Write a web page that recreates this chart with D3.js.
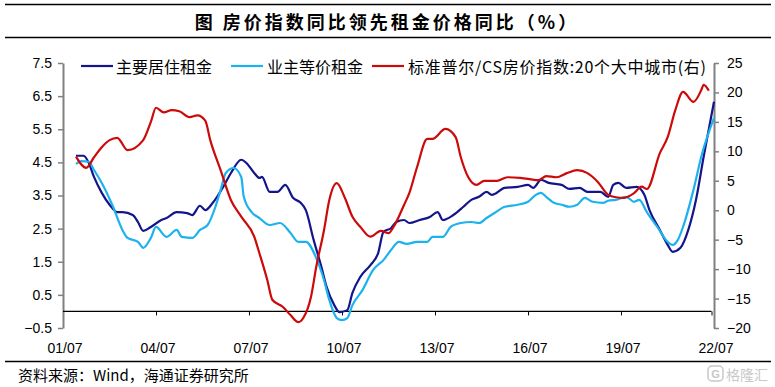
<!DOCTYPE html>
<html>
<head>
<meta charset="utf-8">
<script src="https://cdn.jsdelivr.net/npm/d3@7"></script>
<style>
  html, body { margin: 0; padding: 0; background: #fff; }
  svg { display: block; }
</style>
</head>
<body>
<svg id="chart" width="775" height="387"></svg>
<script>
// ---------------- DATA ----------------
const titleText = "图 房价指数同比领先租金价格同比（%）";
const sourceText = "资料来源：Wind，海通证券研究所";
const seriesNames = ["主要居住租金", "业主等价租金", "标准普尔/CS房价指数:20个大中城市(右)"];

const leftTicks = [-0.5, 0.5, 1.5, 2.5, 3.5, 4.5, 5.5, 6.5, 7.5];
const rightTicks = [-20, -15, -10, -5, 0, 5, 10, 15, 20, 25];
const xTickLabels = ["01/07", "04/07", "07/07", "10/07", "13/07", "16/07", "19/07", "22/07"];

// 主要居住租金 (left axis)
const rentDates = ["2001-12","2002-03","2002-05","2002-07","2002-10","2003-01","2003-04","2003-06","2003-10","2003-12",
  "2004-02","2004-05","2004-09","2004-11","2005-03","2005-07","2005-09","2005-12","2006-02","2006-05",
  "2006-09","2006-12","2007-04","2007-06","2007-09","2007-11","2007-12","2008-03","2008-06","2008-09",
  "2008-12","2009-03","2009-05","2009-08","2009-11","2010-01","2010-04","2010-06","2010-09","2010-11",
  "2011-02","2011-06","2011-09","2011-11","2012-02","2012-04","2012-07","2012-09","2013-01","2013-05",
  "2013-08","2013-10","2014-02","2014-06","2014-09","2014-12","2015-03","2015-05","2015-10","2016-03",
  "2016-07","2016-09","2016-12","2017-03","2017-08","2017-11","2018-03","2018-06","2018-11","2019-02",
  "2019-04","2019-06","2019-09","2020-01","2020-04","2020-06","2020-10","2021-01","2021-03","2021-06",
  "2021-09","2021-12","2022-03","2022-07"];
const rentValues = [4.70,4.70,4.48,4.06,3.58,3.22,3.00,3.00,2.91,2.70,
  2.43,2.55,2.76,2.82,3.00,2.97,2.91,3.19,3.06,3.28,
  3.76,4.18,4.58,4.48,4.18,4.03,4.06,3.61,3.61,3.82,
  3.43,3.28,3.06,2.16,1.34,0.74,0.19,-0.02,0.04,0.56,
  1.04,1.40,1.77,2.40,2.52,2.70,2.76,2.67,2.76,2.85,
  3.00,2.76,2.91,3.16,3.37,3.46,3.61,3.52,3.73,3.76,
  3.82,3.73,3.97,3.88,3.82,3.70,3.73,3.61,3.61,3.46,
  3.82,3.88,3.73,3.76,3.52,3.06,2.46,2.01,1.80,1.92,
  2.46,3.37,4.67,6.33];

// 业主等价租金 (left axis)
const oerDates = ["2001-12","2002-02","2002-05","2002-07","2002-10","2003-02","2003-06","2003-08","2003-12","2004-02",
  "2004-05","2004-07","2004-11","2005-03","2005-05","2005-09","2005-12","2006-03","2006-06","2006-08",
  "2006-10","2007-01","2007-04","2007-05","2007-08","2007-11","2008-03","2008-07","2008-11","2009-02",
  "2009-05","2009-09","2009-12","2010-02","2010-05","2010-07","2010-09","2010-11","2011-03","2011-07",
  "2011-11","2012-02","2012-05","2012-08","2012-12","2013-04","2013-06","2013-10","2014-01","2014-05",
  "2014-09","2014-12","2015-03","2015-06","2015-10","2016-03","2016-07","2016-10","2016-12","2017-02",
  "2017-05","2017-08","2017-11","2018-02","2018-05","2018-08","2018-12","2019-02","2019-05","2019-09",
  "2019-12","2020-02","2020-05","2020-09","2021-01","2021-03","2021-05","2021-07","2021-11","2022-02",
  "2022-07"];
const oerValues = [4.45,4.54,4.52,4.27,3.88,3.22,2.46,2.22,2.10,1.92,
  2.22,2.55,2.25,2.46,2.25,2.22,2.46,2.61,3.16,3.67,
  4.18,4.33,4.06,3.46,3.00,2.82,2.61,2.67,2.37,2.10,
  2.10,1.61,0.95,0.35,-0.20,-0.26,-0.20,0.19,0.65,1.25,
  1.55,1.86,2.10,2.04,2.10,2.10,2.25,2.25,2.55,2.67,
  2.70,2.67,2.82,2.97,3.16,3.22,3.31,3.52,3.58,3.46,
  3.28,3.22,3.16,3.22,3.43,3.31,3.28,3.34,3.37,3.46,
  3.31,3.37,3.00,2.55,2.10,2.01,2.16,2.55,3.67,4.67,
  5.84];

// 标准普尔/CS房价指数:20个大中城市 (right axis)
const csDates = ["2001-12","2002-04","2002-07","2002-10","2003-01","2003-04","2003-08","2004-02","2004-05","2004-07",
  "2004-10","2005-01","2005-04","2005-08","2005-11","2006-02","2006-04","2006-08","2006-12","2007-04",
  "2007-09","2007-11","2008-02","2008-04","2008-08","2008-11","2009-02","2009-04","2009-07","2009-09",
  "2009-12","2010-02","2010-05","2010-08","2010-11","2011-02","2011-06","2011-10","2012-01","2012-03",
  "2012-07","2012-09","2012-12","2013-04","2013-06","2013-11","2014-03","2014-05","2014-08","2014-11",
  "2015-02","2015-07","2015-11","2016-04","2016-11","2017-02","2017-06","2017-10","2018-02","2018-06",
  "2018-10","2019-02","2019-05","2019-08","2019-12","2020-03","2020-05","2020-10","2021-01","2021-04",
  "2021-07","2021-11","2022-02","2022-03","2022-05"];
const csValues = [9.1,7.2,9.0,10.7,11.9,12.3,10.2,11.9,15.0,17.4,
  16.6,17.0,16.8,15.8,16.1,15.2,11.9,6.8,1.7,-1.1,
  -4.5,-7.3,-11.8,-15.2,-16.4,-17.8,-19.0,-18.3,-14.7,-9.6,
  -3.4,1.7,4.6,2.2,-1.1,-2.8,-4.5,-3.5,-3.9,-2.8,
  0.9,2.9,7.3,12.1,12.1,13.8,12.4,9.0,5.5,4.3,
  5.0,5.0,5.6,5.5,5.1,5.8,5.6,6.3,6.8,6.3,
  4.8,2.6,2.2,2.1,2.9,4.0,3.6,9.7,12.4,17.0,
  20.1,18.4,20.4,21.3,20.3];

const colors = ["#14148c", "#1cb2ee", "#cc0a0a"];

// ---------------- CHART ----------------
const svg = d3.select("#chart");
const parse = d3.timeParse("%Y-%m");
const cjk = "'Noto Sans CJK SC', 'Noto Sans', sans-serif";
const latin = "'Liberation Sans', Arial, sans-serif";

const plot = { left: 63, right: 714, top: 63, bottom: 328 };

const x = d3.scaleTime()
  .domain([parse("2001-07"), parse("2022-07")])
  .range([plot.left, plot.right]);
const yL = d3.scaleLinear().domain([-0.5, 7.5]).range([plot.bottom, plot.top]);
const yR = d3.scaleLinear().domain([-20, 25]).range([plot.bottom, plot.top]);

// Title and rules
svg.append("line").attr("x1", 5).attr("x2", 771).attr("y1", 4.5).attr("y2", 4.5)
  .attr("stroke", "#000").attr("stroke-width", 1.5);
svg.append("line").attr("x1", 5).attr("x2", 771).attr("y1", 37.5).attr("y2", 37.5)
  .attr("stroke", "#000").attr("stroke-width", 1.5);
svg.append("text").attr("x", 387).attr("y", 21).attr("text-anchor", "middle")
  .attr("dominant-baseline", "central")
  .style("font-family", cjk).style("font-size", "18px").style("font-weight", "bold")
  .style("letter-spacing", "3px")
  .text(titleText);

// Left axis
const axL = svg.append("g").attr("transform", `translate(${plot.left},0)`)
  .call(d3.axisLeft(yL).tickValues(leftTicks).tickSize(5).tickPadding(6)
    .tickFormat(d3.format(".1f")).tickSizeOuter(0));
axL.select(".domain").attr("stroke", "#808080").attr("stroke-width", 2);
axL.selectAll(".tick line").attr("stroke", "#808080").attr("stroke-width", 1.5);
axL.selectAll(".tick text").style("font-family", latin).style("font-size", "14px").attr("fill", "#000");

// Right axis
const axR = svg.append("g").attr("transform", `translate(${plot.right},0)`)
  .call(d3.axisRight(yR).tickValues(rightTicks).tickSize(5).tickPadding(8).tickSizeOuter(0));
axR.select(".domain").attr("stroke", "#808080").attr("stroke-width", 2);
axR.selectAll(".tick line").attr("stroke", "#808080").attr("stroke-width", 1.5);
axR.selectAll(".tick text").style("font-family", latin).style("font-size", "14px").attr("fill", "#000");

// X axis at left-axis 0
const xTickDates = xTickLabels.map(s => parse("20" + s.replace("/", "-")));
const axX = svg.append("g").attr("transform", `translate(0,${yL(0)})`)
  .call(d3.axisBottom(x).tickValues(xTickDates.slice(1)).tickSize(4).tickSizeOuter(0).tickFormat(""));
axX.select(".domain").attr("stroke", "#000").attr("stroke-width", 1.2)
  .attr("d", `M${plot.left},0H${plot.right - 2.5}`);
axX.selectAll(".tick line").attr("stroke", "#000").attr("stroke-width", 1)
  .attr("transform", (d, i) => i === xTickDates.length - 2 ? "translate(-2.5,0)" : null);

svg.append("g").selectAll("text").data(xTickDates).join("text")
  .attr("x", (d, i) => x(d) + 2)
  .attr("y", 348)
  .attr("text-anchor", "middle").attr("dominant-baseline", "central")
  .style("font-family", latin).style("font-size", "14px")
  .text((d, i) => xTickLabels[i]);

// Lines
const seriesData = [
  { dates: rentDates, values: rentValues, scale: yL },
  { dates: oerDates, values: oerValues, scale: yL },
  { dates: csDates, values: csValues, scale: yR }
];
seriesData.forEach((s, i) => {
  const pts = s.dates.map((d, j) => [parse(d), s.values[j]]);
  const line = d3.line().x(d => x(d[0])).y(d => s.scale(d[1])).curve(d3.curveMonotoneX);
  svg.append("path").datum(pts).attr("d", line)
    .attr("fill", "none").attr("stroke", colors[i]).attr("stroke-width", 2.2)
    .attr("stroke-linejoin", "round");
});

// Legend
const legendItems = [
  { x1: 81, x2: 113, tx: 116, len: null },
  { x1: 231, x2: 263, tx: 267, len: null },
  { x1: 372, x2: 404, tx: 408, len: 298 }
];
legendItems.forEach((l, i) => {
  svg.append("line").attr("x1", l.x1).attr("x2", l.x2).attr("y1", 66).attr("y2", 66)
    .attr("stroke", colors[i]).attr("stroke-width", 2.2);
  const t = svg.append("text").attr("x", l.tx).attr("y", 66).attr("dominant-baseline", "central")
    .style("font-family", cjk).style("font-size", "16px").text(seriesNames[i]);
  if (l.len) t.attr("textLength", l.len).attr("lengthAdjust", "spacing");
});

// Bottom rule and source
svg.append("line").attr("x1", 5).attr("x2", 771).attr("y1", 361.5).attr("y2", 361.5)
  .attr("stroke", "#000").attr("stroke-width", 1.5);
svg.append("text").attr("x", 18).attr("y", 374).attr("dominant-baseline", "central")
  .style("font-family", cjk).style("font-size", "15px").text(sourceText);

// Watermark
const wm = svg.append("g").attr("opacity", 0.55);
wm.append("rect").attr("x", 708).attr("y", 366).attr("width", 15).attr("height", 15).attr("rx", 4)
  .attr("fill", "none").attr("stroke", "#9a9a9a").attr("stroke-width", 1.5);
wm.append("text").attr("x", 715.5).attr("y", 374).attr("text-anchor", "middle").attr("dominant-baseline", "central")
  .style("font-family", latin).style("font-size", "11px").style("font-weight", "bold").attr("fill", "#9a9a9a").text("G");
wm.append("text").attr("x", 726).attr("y", 374).attr("dominant-baseline", "central")
  .style("font-family", cjk).style("font-size", "14px").attr("fill", "#9a9a9a").text("格隆汇");
</script>
</body>
</html>
